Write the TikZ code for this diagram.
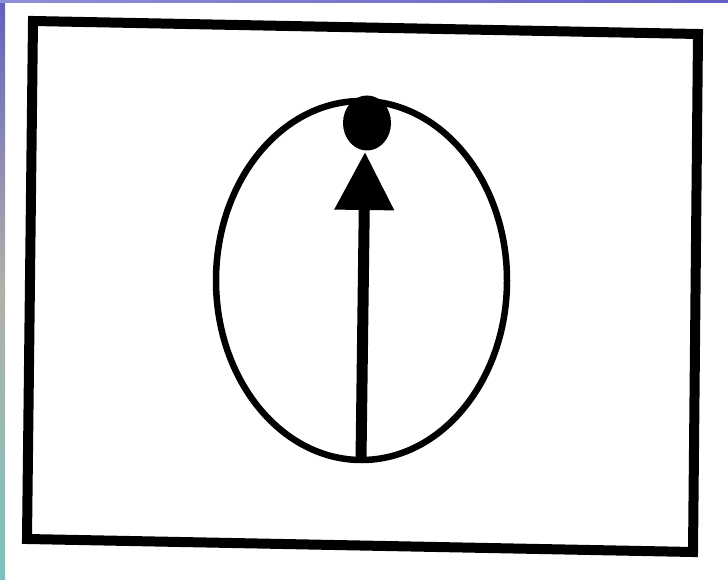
\documentclass[tikz,border=0pt]{standalone}
\usetikzlibrary{arrows.meta,shapes.geometric}
\definecolor{slidetop}{RGB}{96,96,196}
\definecolor{slidemid}{RGB}{178,176,168}
\definecolor{slidebot}{RGB}{120,196,190}
\tikzset{
  ink/.style={black, line cap=butt, line join=miter},
  frame/.style={ink, line width=10pt},
  oval/.style={draw, ellipse, ink, line width=6.5pt, inner sep=0pt, minimum width=291pt, minimum height=359pt},
  blob/.style={fill=black, ellipse, inner sep=0pt, minimum width=48pt, minimum height=55pt},
  pointer/.style={ink, line width=11pt, -{Triangle[length=58pt,width=57pt]}}
}
\begin{document}
\begin{tikzpicture}[x=1pt,y=1pt]
\useasboundingbox (0,0) rectangle (728,579);
\fill[white] (0,0) rectangle (728,579);
\shade[top color=slidetop, bottom color=slidemid] (0,290) rectangle (5,579);
\shade[top color=slidemid, bottom color=slidebot] (0,0) rectangle (5,290);
\shade[left color=slidetop!70!white, right color=slidetop] (0,576) rectangle (728,579);
% frame
\coordinate (tl) at (33,558);
\coordinate (tr) at (698,545);
\coordinate (br) at (693,27);
\coordinate (bl) at (27,40);
\draw[frame] (tl) -- (tr) -- (br) -- (bl) -- cycle;
% ellipse
\node[oval] (o) at (361.5,298.5) {};
% pointer
\coordinate (bot) at (361,119);
\coordinate (tip) at (365,427);
\draw[pointer] (bot) -- (tip);
% dot
\node[blob] (dot) at (367,456) {};
\end{tikzpicture}
\end{document}
